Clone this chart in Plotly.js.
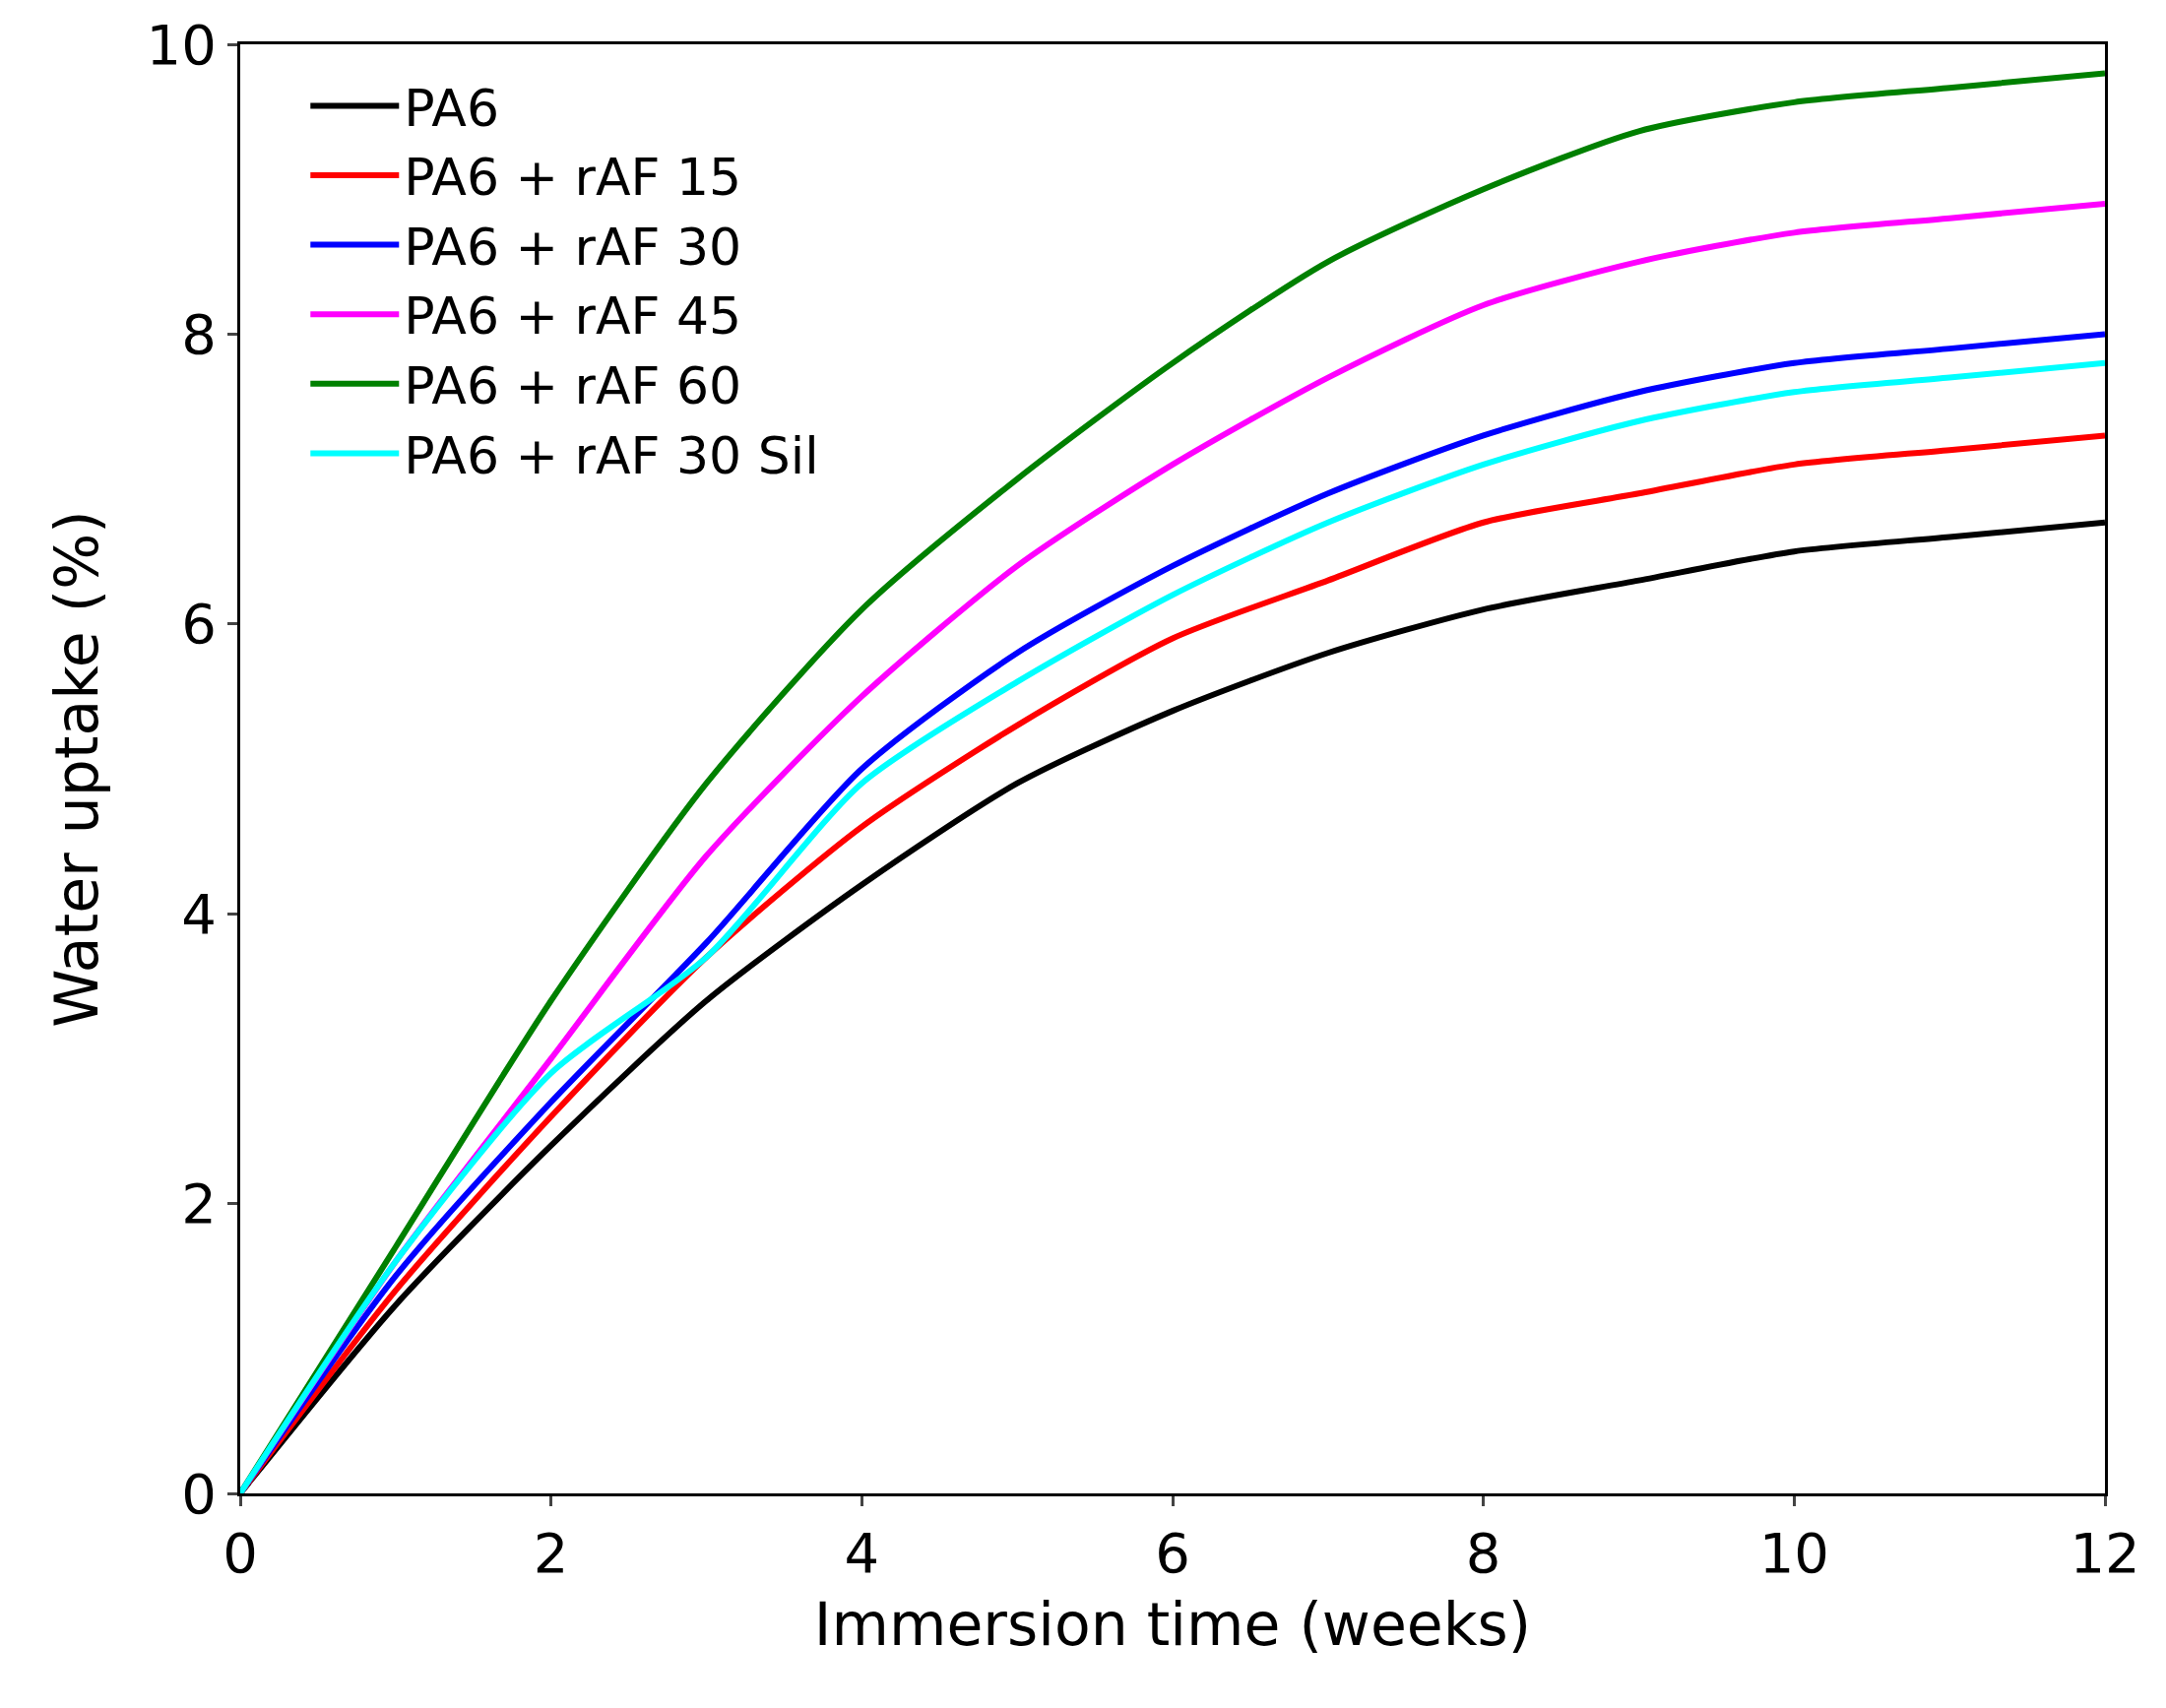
<!DOCTYPE html>
<html><head><meta charset="utf-8">
<script src="https://cdn.plot.ly/plotly-3.0.1.min.js"></script>
<style>body{margin:0;background:#fff}</style></head>
<body><div id="chart" style="width:2200px;height:1735px"></div>
<script>
const weeks = [0,1,2,3,4,5,6,7,8,9,10,11,12];
const pa6 =      [0,1.3,2.4,3.4,4.2,4.9,5.4,5.8,6.1,6.3,6.5,6.6,6.7];
const raf15 =    [0,1.4,2.6,3.7,4.6,5.3,5.9,6.3,6.7,6.9,7.1,7.2,7.3];
const raf30 =    [0,1.5,2.7,3.8,5.0,5.8,6.4,6.9,7.3,7.6,7.8,7.9,8.0];
const raf45 =    [0,1.6,3.0,4.4,5.5,6.4,7.1,7.7,8.2,8.5,8.7,8.8,8.9];
const raf60 =    [0,1.7,3.4,4.9,6.1,7.0,7.8,8.5,9.0,9.4,9.6,9.7,9.8];
const raf30sil = [0,1.6,2.9,3.7,4.9,5.6,6.2,6.7,7.1,7.4,7.6,7.7,7.8];

const series = [
  ['PA6', pa6, 'black'],
  ['PA6 + rAF 15', raf15, 'red'],
  ['PA6 + rAF 30', raf30, 'blue'],
  ['PA6 + rAF 45', raf45, 'magenta'],
  ['PA6 + rAF 60', raf60, 'green'],
  ['PA6 + rAF 30 Sil', raf30sil, 'cyan']
];
const traces = series.map(([name, y, c]) => ({
  x: weeks, y: y, name: name, type: 'scatter', mode: 'lines',
  line: {color: c, width: 6, shape: 'spline', smoothing: 0.7}
}));

const ax = {
  showgrid: false, zeroline: false, showline: true, mirror: true,
  linecolor: 'black', linewidth: 3, ticks: 'outside', ticklen: 10, tickwidth: 3,
  tickfont: {size: 56, color: 'black'}
};
Plotly.newPlot('chart', traces, {
  width: 2200, height: 1735,
  margin: {l: 244, r: 62, t: 45, b: 218},
  font: {family: 'DejaVu Sans', color: 'black'},
  paper_bgcolor: 'white', plot_bgcolor: 'white',
  xaxis: Object.assign({}, ax, {range: [0, 12], dtick: 2,
    title: {text: 'Immersion time (weeks)', font: {size: 60}, standoff: 20}}),
  yaxis: Object.assign({}, ax, {range: [0, 10], dtick: 2,
    title: {text: 'Water uptake (%)', font: {size: 60}, standoff: 30}}),
  legend: {x: 0.035, y: 0.985, xanchor: 'left', yanchor: 'top',
    font: {size: 52}, bgcolor: 'rgba(0,0,0,0)', tracegroupgap: 0, itemwidth: 90},
  showlegend: true
}, {staticPlot: true});
</script></body></html>
